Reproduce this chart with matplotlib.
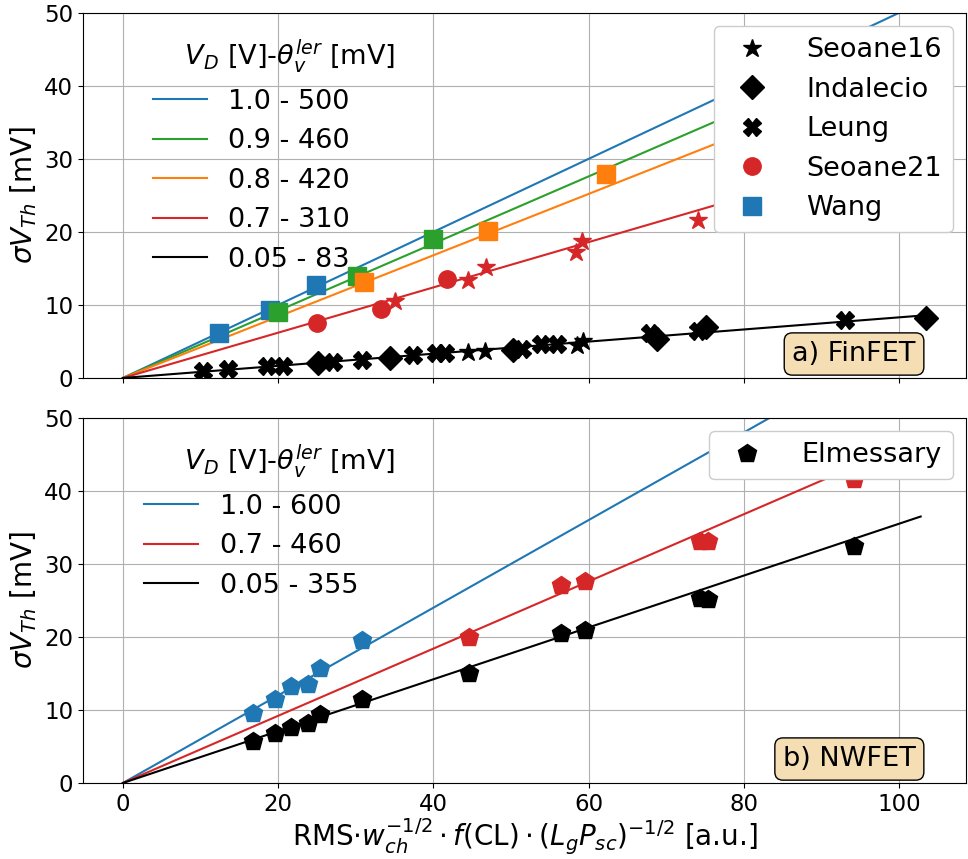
import matplotlib
matplotlib.use("Agg")
import matplotlib.pyplot as plt
from matplotlib.lines import Line2D

# ---------------- data: a) FinFET ----------------
fin_line_labels = ["1.0 - 500", "0.9 - 460", "0.8 - 420", "0.7 - 310", "0.05 - 83"]
fin_line_slopes = [0.500, 0.460, 0.420, 0.310, 0.083]
fin_line_colors = ["#1f77b4", "#2ca02c", "#ff7f0e", "#d62728", "black"]
fin_line_xend = 103.5

wang_blue_x = [12.4, 18.9, 24.9]
wang_blue_y = [6.2, 9.3, 12.7]
wang_green_x = [20.0, 30.2, 39.9]
wang_green_y = [9.1, 14.0, 19.1]
wang_orange_x = [31.1, 47.1, 62.2]
wang_orange_y = [13.1, 20.1, 27.9]

seoane21_x = [25.0, 33.3, 41.7]
seoane21_y = [7.5, 9.5, 13.5]

seoane16_red_x = [35.0, 44.5, 46.8, 58.4, 59.2, 74.1]
seoane16_red_y = [10.5, 13.4, 15.2, 17.3, 18.8, 21.6]
seoane16_blk_x = [44.5, 46.7, 58.5, 59.3]
seoane16_blk_y = [3.5, 3.7, 4.5, 5.1]

indalecio_x = [25.2, 34.4, 50.3, 68.8, 75.2, 103.5]
indalecio_y = [2.0, 2.7, 3.8, 5.3, 7.0, 8.2]

leung_x = [10.3, 13.5, 18.6, 20.6, 27.1, 30.8, 37.4, 40.4, 41.5,
           51.4, 53.9, 55.9, 67.9, 74.1, 93.0]
leung_y = [1.0, 1.2, 1.6, 1.6, 2.2, 2.5, 3.15, 3.4, 3.4,
           3.9, 4.7, 4.7, 6.2, 6.5, 7.9]

# ---------------- data: b) NWFET ----------------
nw_line_labels = ["1.0 - 600", "0.7 - 460", "0.05 - 355"]
nw_line_slopes = [0.600, 0.460, 0.355]
nw_line_colors = ["#1f77b4", "#d62728", "black"]
nw_line_xend = 102.8

elm_blue_x = [16.8, 19.6, 21.7, 23.8, 25.4, 30.8]
elm_blue_y = [9.6, 11.5, 13.3, 13.5, 15.7, 19.6]
elm_red_x = [44.6, 56.5, 59.5, 74.4, 75.4, 94.2]
elm_red_y = [20.0, 27.1, 27.7, 33.1, 33.2, 41.7]
elm_blk_x = [16.8, 19.6, 21.7, 23.8, 25.4, 30.8, 44.6, 56.5, 59.5, 74.4, 75.4, 94.2]
elm_blk_y = [5.8, 6.9, 7.7, 8.2, 9.5, 11.5, 15.0, 20.5, 20.9, 25.4, 25.2, 32.4]

# ---------------- style ----------------
TICK_FS = 16.5
LABEL_FS = 20
LEG_FS = 19.5
MS = 12.5
legend_title = "         " + r"$V_D$ [V]-$\theta_v^{ler}$ [mV]"

fig = plt.figure(figsize=(9.68, 8.59), dpi=100)
ax1 = fig.add_axes([0.0857, 0.560, 0.9123, 0.425])
ax2 = fig.add_axes([0.0857, 0.0885, 0.9123, 0.425], sharex=ax1)

# ---- top panel
line_handles = []
for s, c, lab in zip(fin_line_slopes, fin_line_colors, fin_line_labels):
    h, = ax1.plot([0, fin_line_xend], [0, s * fin_line_xend], color=c, lw=1.5, label=lab, zorder=2)
    line_handles.append(h)

kw = dict(linestyle="none", zorder=3)
ax1.plot(wang_blue_x, wang_blue_y, marker="s", color="#1f77b4", ms=MS, **kw)
ax1.plot(wang_green_x, wang_green_y, marker="s", color="#2ca02c", ms=MS, **kw)
ax1.plot(wang_orange_x, wang_orange_y, marker="s", color="#ff7f0e", ms=MS, **kw)
ax1.plot(seoane21_x, seoane21_y, marker="o", color="#d62728", ms=MS, **kw)
ax1.plot(seoane16_red_x, seoane16_red_y, marker="*", color="#d62728", ms=MS + 1, **kw)
ax1.plot(seoane16_blk_x, seoane16_blk_y, marker="*", color="black", ms=MS + 1, **kw)
ax1.plot(indalecio_x, indalecio_y, marker="D", color="black", ms=MS, **kw)
ax1.plot(leung_x, leung_y, marker="X", color="black", ms=MS, **kw)

leg1 = ax1.legend(handles=line_handles, loc="upper left", frameon=False,
                  fontsize=LEG_FS, title=legend_title, title_fontsize=LEG_FS)
ax1.add_artist(leg1)
marker_handles = [
    Line2D([], [], linestyle="none", marker="*", color="black", ms=MS + 1, label="Seoane16"),
    Line2D([], [], linestyle="none", marker="D", color="black", ms=MS, label="Indalecio"),
    Line2D([], [], linestyle="none", marker="X", color="black", ms=MS, label="Leung"),
    Line2D([], [], linestyle="none", marker="o", color="#d62728", ms=MS, label="Seoane21"),
    Line2D([], [], linestyle="none", marker="s", color="#1f77b4", ms=MS, label="Wang"),
]
ax1.legend(handles=marker_handles, loc="upper right", fontsize=LEG_FS,
           framealpha=1, handletextpad=1.0)

ax1.text(0.943, 0.03, "a) FinFET", transform=ax1.transAxes, ha="right", va="bottom",
         fontsize=LEG_FS, bbox=dict(boxstyle="round", facecolor="wheat", edgecolor="black"),
         zorder=5)

# ---- bottom panel
line_handles2 = []
for s, c, lab in zip(nw_line_slopes, nw_line_colors, nw_line_labels):
    h, = ax2.plot([0, nw_line_xend], [0, s * nw_line_xend], color=c, lw=1.5, label=lab, zorder=2)
    line_handles2.append(h)

ax2.plot(elm_blue_x, elm_blue_y, marker="p", color="#1f77b4", ms=MS + 1, **kw)
ax2.plot(elm_red_x, elm_red_y, marker="p", color="#d62728", ms=MS + 1, **kw)
ax2.plot(elm_blk_x, elm_blk_y, marker="p", color="black", ms=MS + 1, **kw)

leg2 = ax2.legend(handles=line_handles2, loc="upper left", frameon=False,
                  fontsize=LEG_FS, title=legend_title, title_fontsize=LEG_FS)
ax2.add_artist(leg2)
ax2.legend(handles=[Line2D([], [], linestyle="none", marker="p", color="black", ms=MS + 1,
                           label="Elmessary")], loc="upper right", fontsize=LEG_FS,
           framealpha=1, handletextpad=1.0)

ax2.text(0.943, 0.03, "b) NWFET", transform=ax2.transAxes, ha="right", va="bottom",
         fontsize=LEG_FS, bbox=dict(boxstyle="round", facecolor="wheat", edgecolor="black"),
         zorder=5)

for ax in (ax1, ax2):
    ax.set_ylim(0, 50)
    ax.set_yticks([0, 10, 20, 30, 40, 50])
    ax.grid(True, color="#b0b0b0", lw=0.8)
    ax.set_axisbelow(True)
    ax.tick_params(labelsize=TICK_FS)
    ax.set_ylabel(r"$\sigma V_{Th}$ [mV]", fontsize=LABEL_FS)

ax1.set_xlim(-5.15, 108.65)
ax1.set_xticks([0, 20, 40, 60, 80, 100])
ax1.tick_params(labelbottom=False)
ax2.set_xlabel(r"RMS$\cdot w_{ch}^{-1/2}\cdot f\mathrm{(CL)}\cdot(L_gP_{sc})^{-1/2}$ [a.u.]",
               fontsize=LABEL_FS, labelpad=1)

fig.savefig("out.png", dpi=100)
